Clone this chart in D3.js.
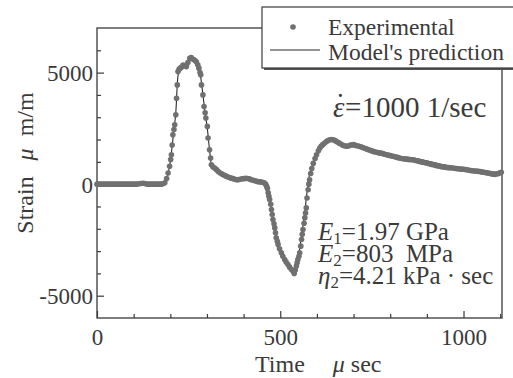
<!DOCTYPE html>
<html>
<head>
<meta charset="utf-8">
<script src="https://cdn.jsdelivr.net/npm/d3@7"></script>
<style>
  html, body { margin: 0; padding: 0; background: #fff; }
  svg { display: block; font-family: "Liberation Serif", "Times New Roman", serif; }
</style>
</head>
<body>
<div id="chart"></div>
<script>
// Experimental strain record (time in usec, strain in micro m/m)
const expTime = [0, 5, 10, 15, 20, 25, 30, 35, 40, 45, 50, 55, 60, 65, 70, 75, 80, 85, 90, 95, 100, 105, 110, 115,
  120, 125, 130, 135, 140, 145, 150, 155, 160, 165, 170, 175, 180, 185, 190,
  194, 198, 201, 203, 205, 207, 210, 212, 215, 217, 219, 221, 224, 227, 231, 235, 239, 244, 248, 253, 257, 262,
  266, 271, 275, 278, 281, 283, 285, 289, 292, 295, 297, 301, 303, 307, 310, 312,
  316, 321, 326, 331, 336, 341, 346, 351, 356, 361, 366, 371, 376, 381, 386, 391, 396, 401, 406, 411, 416, 421,
  426, 431, 436, 441, 446, 451, 456, 460, 463, 465, 467, 469, 471, 474, 476, 478,
  480, 483, 485, 487, 489, 492, 494, 498, 503, 507, 512, 516, 521, 525, 530, 535, 538, 541, 544, 546, 548, 551,
  553, 556, 558, 560, 562, 565, 567, 569, 571, 573, 576, 578, 580, 583, 586, 590, 595, 599, 604, 608, 612, 616,
  621, 626, 630, 635, 640, 645, 650, 655, 660, 665, 670, 675, 680, 685, 690, 695, 700, 705, 710, 715, 720, 725,
  730, 735, 740, 745, 750, 755, 760, 765, 770, 775, 780, 785, 790, 795, 800, 805, 810, 815, 820, 825, 830, 835,
  840, 845, 850, 855, 860, 865, 870, 875, 880, 885, 890, 895, 900, 905, 910, 915, 920, 925, 930, 935, 940, 945,
  950, 955, 960, 965, 970, 975, 980, 985, 990, 995, 1000, 1005, 1010, 1015, 1020, 1025, 1030, 1035, 1040, 1045,
  1050, 1055, 1060, 1065, 1070, 1075, 1080, 1085, 1090, 1095, 1100, 1103];
const expStrain = [0, 0, 0, 0, 0, 0, 0, 0, 0, 0, 0, 0, 0, 0, 0, 0, 0, 0, 0, 0, 0, 0, 10, 20,
  30, 40, 30, 10, 0, 0, 0, 0, 0, 0, 0, 0, 20, 60, 250,
  500, 800, 1100, 1320, 1750, 2210, 2450, 2660, 3110, 3850, 4450, 5045, 5150, 5200, 5250, 5340, 5300, 5270, 5450, 5640, 5680, 5600,
  5560, 5490, 5350, 5200, 5000, 4900, 4450, 4000, 3480, 3200, 2960, 2590, 2070, 1540, 1170, 870,
  780, 720, 650, 570, 500, 450, 410, 370, 330, 300, 270, 250, 220, 200, 205, 220, 240, 250, 260, 255, 235, 200,
  175, 150, 125, 110, 100, 85, 60, 0, -100, -200, -390, -540, -690, -900, -1140, -1360,
  -1590, -1780, -1960, -2180, -2400, -2560, -2700, -2900, -3080, -3230, -3380, -3490, -3600, -3710, -3820, -3900, -4000, -3850, -3670, -3520, -3380, -3230,
  -3080, -2780, -2480, -2250, -2030, -1750, -1510, -1290, -1065, -620, -250, 0, 200, 480, 700, 930, 1150, 1320, 1500, 1620, 1710, 1770,
  1840, 1910, 1960, 1990, 2000, 1990, 1950, 1900, 1850, 1800, 1750, 1720, 1700, 1710, 1740, 1760, 1770, 1740, 1720, 1700, 1680, 1640,
  1610, 1580, 1550, 1520, 1490, 1460, 1440, 1420, 1400, 1390, 1370, 1340, 1320, 1300, 1280, 1260, 1240, 1220, 1200, 1170, 1150, 1140,
  1130, 1120, 1110, 1100, 1095, 1080, 1060, 1040, 1020, 1000, 980, 960, 945, 925, 900, 880, 860, 840, 820, 800, 785, 770,
  755, 745, 740, 735, 725, 715, 700, 690, 680, 672, 665, 655, 645, 625, 610, 600, 592, 585, 575, 565,
  550, 535, 520, 505, 490, 470, 445, 440, 455, 480, 510, 530];

// Model's prediction
const modelTime = [0, 180, 186, 190, 195, 200, 205, 210, 215, 220, 225, 235, 244, 253, 262, 271, 278, 283, 289, 295,
  301, 307, 312, 318, 330, 345, 360, 380, 400, 417, 440, 458, 465, 471, 480, 489, 498, 512, 525, 535, 539, 543,
  548, 553, 558, 563, 568, 572, 576, 580, 586, 595, 608, 621, 635, 645, 660, 680, 698, 717, 753, 790, 826, 862,
  899, 935, 971, 1008, 1044, 1081, 1103];
const modelStrain = [0, 0, 50, 200, 550, 1000, 1700, 2450, 3200, 4700, 5150, 5320, 5280, 5640, 5620, 5480, 5200, 4800, 4000, 3200,
  2500, 1550, 900, 760, 600, 430, 320, 220, 250, 230, 110, 40, -200, -700, -1600, -2400, -2900, -3380, -3720, -3920, -3950, -3700,
  -3300, -2900, -2300, -1750, -1100, -500, 50, 450, 750, 1150, 1650, 1870, 2000, 1990, 1860, 1710, 1760, 1700, 1500, 1380, 1250, 1170,
  1050, 900, 790, 700, 620, 540, 520];

const xTicksMajor = [0, 500, 1000];
const xTicksMinor = [100, 200, 300, 400, 600, 700, 800, 900, 1100];
const yTicksMajor = [5000, 0, -5000];
const yTicksMinor = [6000, 4000, 3000, 2000, 1000, -1000, -2000, -3000, -4000];

const width = 513, height = 378;
const margin = { top: 28, right: 11, bottom: 60, left: 97 };
const fontFamily = '"Liberation Serif", "Times New Roman", serif';

const svg = d3.select("#chart")
  .append("svg")
  .attr("width", width)
  .attr("height", height);

const x = d3.scaleLinear().domain([0, 1105]).range([margin.left, width - margin.right]);
const y = d3.scaleLinear().domain([-6000, 7000]).range([height - margin.bottom, margin.top]);

const ink = "#3a3a3a";

// Frame
svg.append("rect")
  .attr("x", x(0))
  .attr("y", y(7000))
  .attr("width", x(1105) - x(0))
  .attr("height", y(-6000) - y(7000))
  .attr("fill", "none")
  .attr("stroke", ink)
  .attr("stroke-width", 1.3);

// Axes (ticks pointing inward), plain hyphen for negatives like the original
const xAxisMajor = d3.axisBottom(x).tickValues(xTicksMajor).tickSize(-7).tickPadding(10).tickFormat(d => String(d));
const xAxisMinor = d3.axisBottom(x).tickValues(xTicksMinor).tickSize(-4).tickFormat("");
const yAxisMajor = d3.axisLeft(y).tickValues(yTicksMajor).tickSize(-7).tickPadding(4).tickFormat(d => String(d));
const yAxisMinor = d3.axisLeft(y).tickValues(yTicksMinor).tickSize(-4).tickFormat("");

function styleAxis(g) {
  g.select(".domain").remove();
  g.selectAll(".tick line").attr("stroke", ink).attr("stroke-width", 1.2);
  g.selectAll(".tick text")
    .attr("fill", ink)
    .style("font-family", fontFamily)
    .style("font-size", "23px");
}

svg.append("g").attr("transform", `translate(0,${y(-6000)})`).call(xAxisMinor).call(styleAxis);
svg.append("g").attr("transform", `translate(0,${y(-6000)})`).call(xAxisMajor).call(styleAxis)
  .selectAll(".tick text").attr("dy", "0.72em");
svg.append("g").attr("transform", `translate(${x(0)},0)`).call(yAxisMinor).call(styleAxis);
svg.append("g").attr("transform", `translate(${x(0)},0)`).call(yAxisMajor).call(styleAxis)
  .selectAll(".tick text").attr("dy", "0.35em");

// Series
const expData = expTime.map((t, i) => ({ t, s: expStrain[i] }));
const modelData = modelTime.map((t, i) => ({ t, s: modelStrain[i] }));

const line = d3.line()
  .x(d => x(d.t))
  .y(d => y(d.s))
  .curve(d3.curveMonotoneX);

svg.append("path")
  .datum(modelData)
  .attr("fill", "none")
  .attr("stroke", "#2b2b2b")
  .attr("stroke-width", 1.1)
  .attr("d", line);

svg.append("g")
  .selectAll("circle")
  .data(expData)
  .enter().append("circle")
  .attr("cx", d => x(d.t))
  .attr("cy", d => y(d.s))
  .attr("r", 2.8)
  .attr("fill", "#707070");

// Axis titles
svg.append("text")
  .attr("transform", "translate(33,163) rotate(-90)")
  .attr("text-anchor", "middle")
  .attr("fill", ink)
  .style("font-size", "24px")
  .style("white-space", "pre")
  .call(t => {
    t.append("tspan").text("Strain");
    t.append("tspan").attr("dx", 16).style("font-style", "italic").text("μ");
    t.append("tspan").text("  m/m");
  });

svg.append("text")
  .attr("x", 255)
  .attr("y", 372)
  .attr("fill", ink)
  .style("font-size", "24px")
  .call(t => {
    t.append("tspan").text("Time");
    t.append("tspan").attr("dx", 28).style("font-style", "italic").text("μ");
    t.append("tspan").text(" sec");
  });

// Strain rate annotation: epsilon with a dot accent set over it
const rate = svg.append("text")
  .attr("x", 333)
  .attr("y", 117)
  .attr("fill", ink)
  .style("font-size", "29px");
rate.append("tspan").style("font-style", "italic").text("ε");
rate.append("tspan").attr("dx", -9).attr("dy", -3).text("˙");
rate.append("tspan").attr("dx", 0).attr("dy", 3).text("=1000 1/sec");

// Model parameters
const params = [
  { sym: "E", sub: "1", rest: "=1.97 GPa" },
  { sym: "E", sub: "2", rest: "=803  MPa" },
  { sym: "η", sub: "2", rest: "=4.21 kPa · sec" }
];
params.forEach((p, i) => {
  const t = svg.append("text")
    .attr("x", 318)
    .attr("y", 240 + i * 22)
    .attr("fill", ink)
    .style("font-size", "25px")
    .style("white-space", "pre");
  t.append("tspan").style("font-style", "italic").text(p.sym);
  t.append("tspan").attr("dy", 4).style("font-size", "17px").text(p.sub);
  t.append("tspan").attr("dy", -4).text(p.rest);
});

// Legend
const legend = svg.append("g");
legend.append("rect")
  .attr("x", 264).attr("y", 9)
  .attr("width", 260).attr("height", 61)
  .attr("fill", "#555");
legend.append("rect")
  .attr("x", 262).attr("y", 7)
  .attr("width", 260).attr("height", 61)
  .attr("fill", "#fff")
  .attr("stroke", ink)
  .attr("stroke-width", 1.2);
legend.append("circle")
  .attr("cx", 293).attr("cy", 27).attr("r", 2.8)
  .attr("fill", "#707070");
legend.append("line")
  .attr("x1", 270).attr("x2", 320)
  .attr("y1", 50).attr("y2", 50)
  .attr("stroke", "#2b2b2b").attr("stroke-width", 1.1);
legend.append("text")
  .attr("x", 328).attr("y", 35)
  .attr("fill", ink)
  .style("font-size", "23.5px")
  .text("Experimental");
legend.append("text")
  .attr("x", 328).attr("y", 60)
  .attr("fill", ink)
  .style("font-size", "23.5px")
  .text("Model's prediction");
</script>
</body>
</html>
